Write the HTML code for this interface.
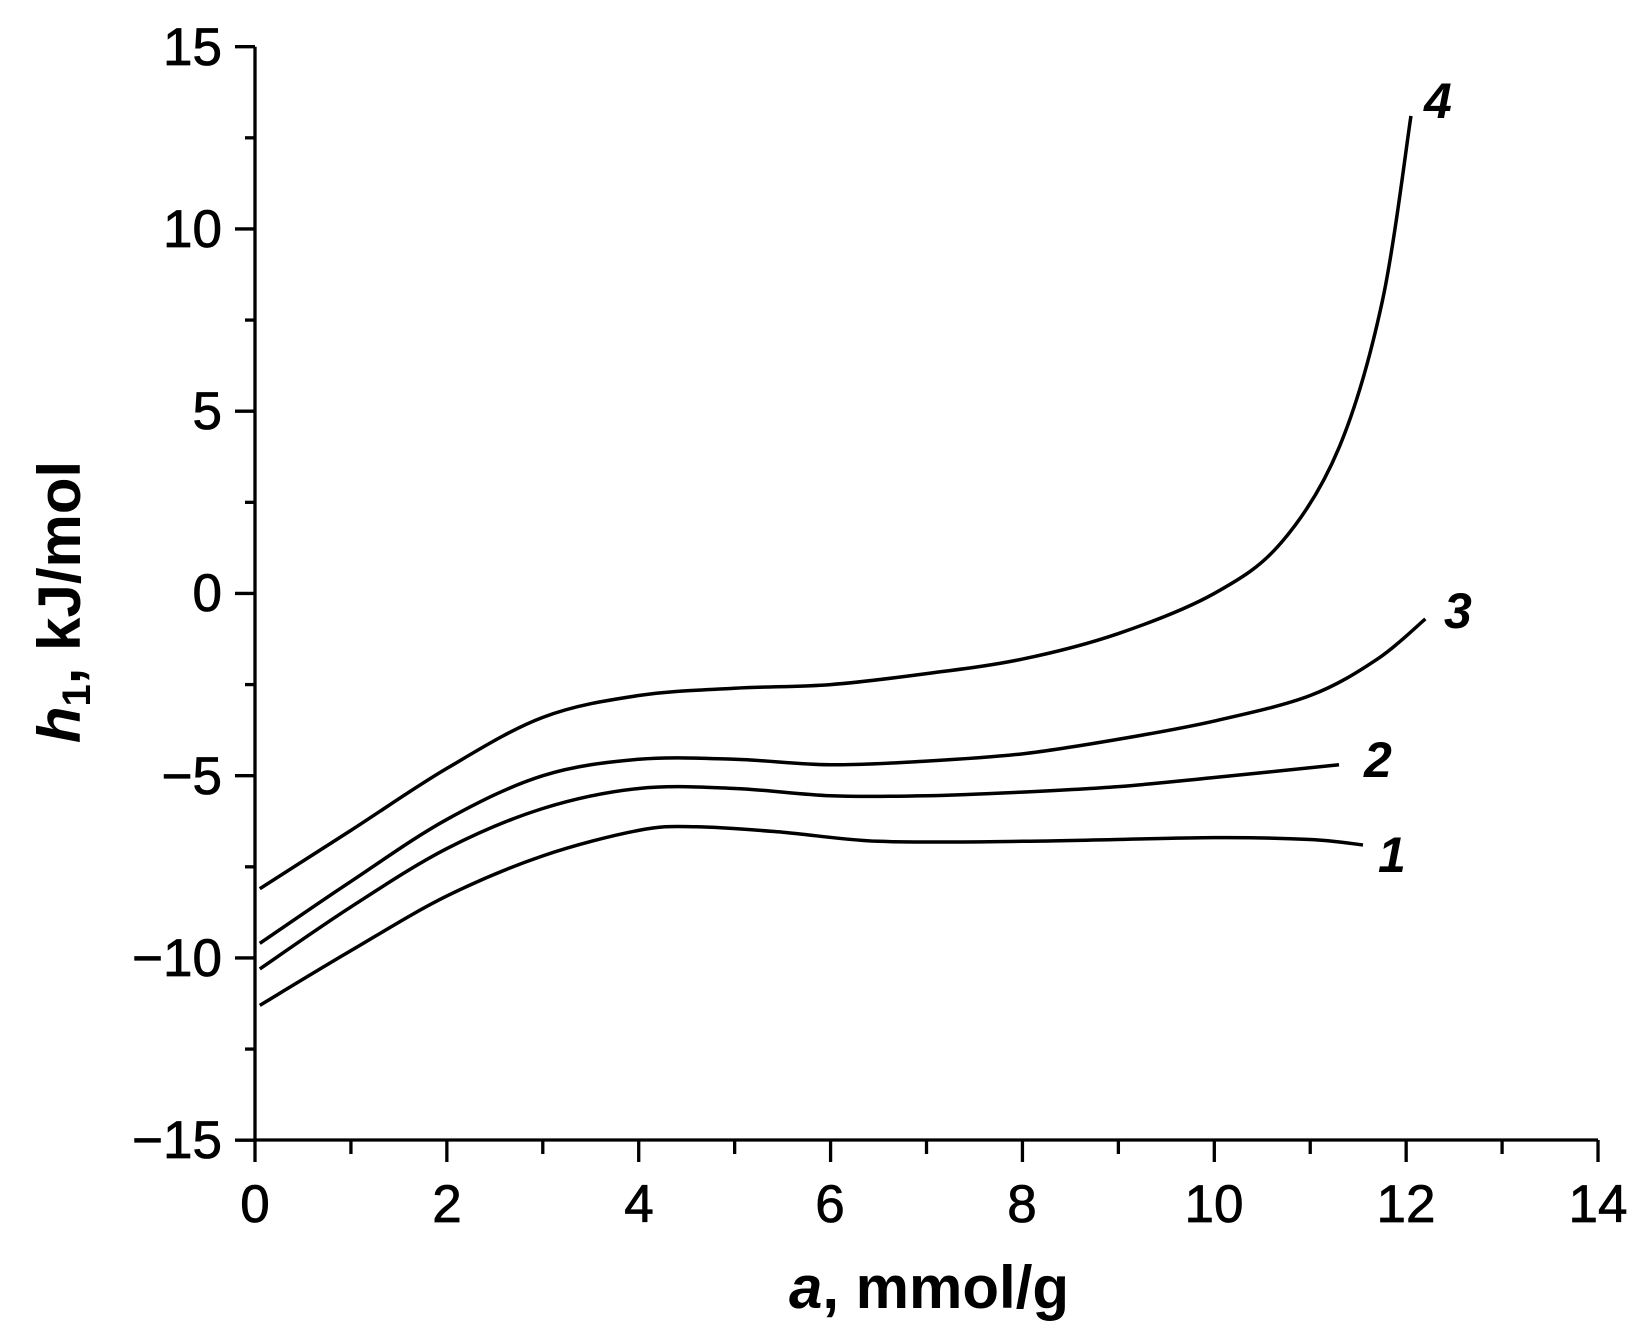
<!DOCTYPE html>
<html><head><meta charset="utf-8"><style>body{margin:0;background:#fff}svg{display:block}</style></head>
<body>
<svg id="s" width="1648" height="1339" viewBox="0 0 1648 1339" xmlns="http://www.w3.org/2000/svg" font-family="Liberation Sans, Arial, sans-serif">
<g id="g" stroke="#000" fill="none" stroke-width="3.3"></g>
<g font-size="53" text-anchor="end" fill="#000" stroke="#000" stroke-width="0.8">
<text x="222" y="65">15</text>
<text x="222" y="247">10</text>
<text x="222" y="429">5</text>
<text x="222" y="611">0</text>
<text x="222" y="794">−5</text>
<text x="222" y="976">−10</text>
<text x="222" y="1158">−15</text>
</g>
<g font-size="53" text-anchor="middle" fill="#000" stroke="#000" stroke-width="0.8">
<text x="255" y="1222">0</text><text x="447" y="1222">2</text><text x="639" y="1222">4</text>
<text x="830" y="1222">6</text><text x="1022" y="1222">8</text><text x="1214" y="1222">10</text>
<text x="1406" y="1222">12</text><text x="1598" y="1222">14</text>
</g>
<text x="929" y="1308" font-size="60" font-weight="bold" text-anchor="middle"><tspan font-style="italic">a</tspan>, mmol/g</text>
<text transform="translate(80,602) rotate(-90)" font-size="60" font-weight="bold" text-anchor="middle"><tspan font-style="italic">h</tspan><tspan font-size="40" dy="10">1</tspan><tspan dy="-10">, kJ/mol</tspan></text>
<g font-size="50" font-weight="bold" font-style="italic" fill="#000">
<text x="1424" y="118">4</text>
<text x="1444" y="628">3</text>
<text x="1364" y="777">2</text>
<text x="1378" y="872">1</text>
</g>
</svg>
<script>
var g=document.getElementById('g');
function X(v){return 255+v*95.93}
function Y(v){return 46.7+(15-v)*36.45}
var h='';
h+='<path d="M255,46.7V1140H1598"/>';
for(var i=0;i<=14;i++){var x=X(i);h+='<path d="M'+x+',1140v'+(i%2?14:22)+'"/>';}
for(var j=0;j<=12;j++){var v=15-j*2.5,y=Y(v);h+='<path d="M255,'+y+'h'+(j%2?-10:-20)+'"/>';}
function cr(pts){var p=pts.map(function(a){return [X(a[0]),Y(a[1])]});var d='M'+p[0];
for(var i=0;i<p.length-1;i++){var p0=p[i-1]||p[i],p1=p[i],p2=p[i+1],p3=p[i+2]||p2;
d+='C'+(p1[0]+(p2[0]-p0[0])/6)+','+(p1[1]+(p2[1]-p0[1])/6)+' '+(p2[0]-(p3[0]-p1[0])/6)+','+(p2[1]-(p3[1]-p1[1])/6)+' '+p2;}
return '<path d="'+d+'" stroke-width="3.5"/>';}
h+=cr([[0.05,-8.1],[1,-6.5],[2,-4.8],[3,-3.4],[4,-2.8],[5,-2.6],[6,-2.5],[7,-2.2],[8,-1.8],[9,-1.1],[10,0],[10.7,1.4],[11.3,4],[11.75,8],[12.05,13.1]]);
h+=cr([[0.05,-9.6],[1,-7.9],[2,-6.2],[3,-5],[4,-4.55],[5,-4.55],[6,-4.7],[7,-4.6],[8,-4.4],[9,-4],[10,-3.5],[11,-2.8],[11.7,-1.8],[12.2,-0.7]]);
h+=cr([[0.05,-10.3],[1,-8.6],[2,-7],[3,-5.9],[4,-5.35],[5,-5.35],[6,-5.55],[7,-5.55],[8,-5.45],[9,-5.3],[10,-5.05],[11.3,-4.7]]);
h+=cr([[0.05,-11.3],[1,-9.8],[2,-8.3],[3,-7.2],[4,-6.5],[4.6,-6.4],[5.5,-6.55],[6.5,-6.8],[8,-6.8],[10,-6.7],[11,-6.75],[11.55,-6.9]]);
g.innerHTML=h;
</script>
</body></html>
